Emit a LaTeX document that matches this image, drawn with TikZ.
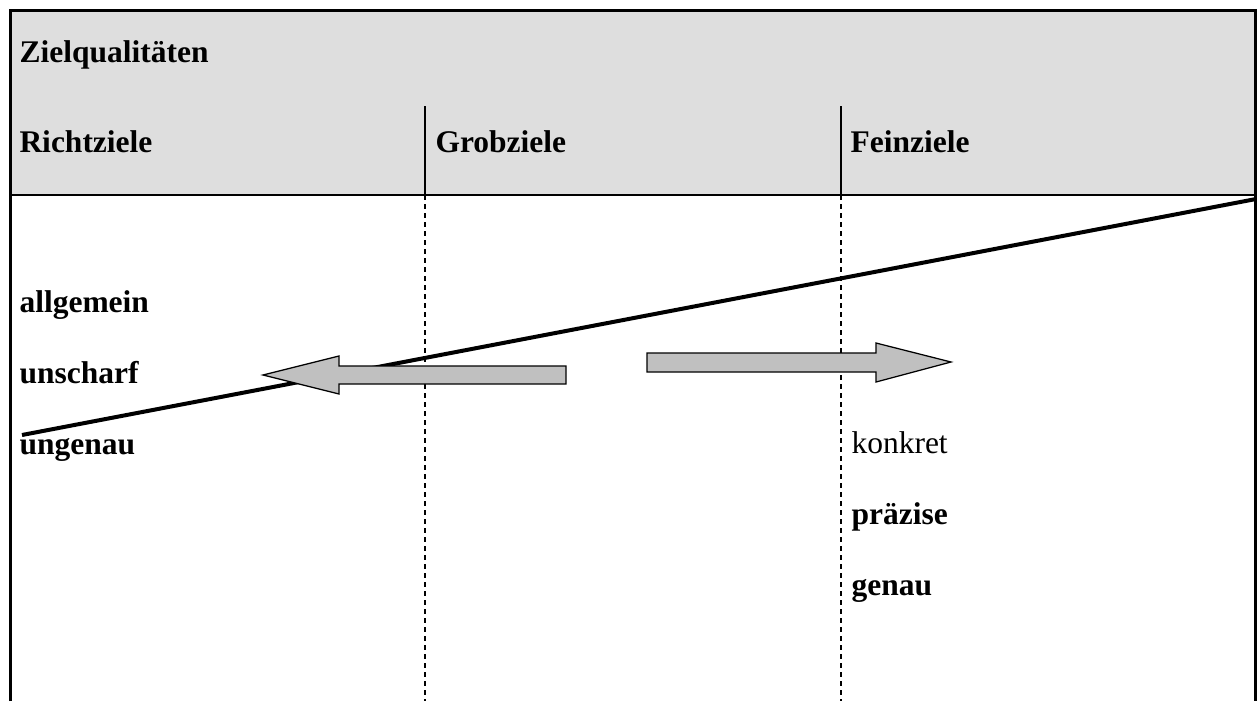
\documentclass[tikz,border=0pt]{standalone}
\usepackage{fontspec}
\setmainfont{Liberation Serif}
\definecolor{kopfgrau}{RGB}{222,222,222}
\definecolor{pfeilgrau}{RGB}{192,192,192}
\tikzset{
  ziel/.style={anchor=base west,inner sep=0pt,font=\fontsize{12.6}{15}\selectfont\bfseries},
  zielnormal/.style={anchor=base west,inner sep=0pt,font=\fontsize{12.6}{15}\selectfont},
  trenner/.style={line width=0.8pt},
  trennerdash/.style={line width=1.1pt,dash pattern=on 2pt off 1.6pt},
  blockpfeil/.style={draw,line width=0.5pt,fill=pfeilgrau,line join=miter}
}
\begin{document}
\begin{tikzpicture}[x=0.4pt,y=-0.4pt]
        \useasboundingbox (0,0) rectangle (1257,701);

        % Kopfzeile
        \fill[kopfgrau] (10,10) rectangle (1255.5,195);
        \draw[line width=1.2pt] (10,701) -- (10,10) -- (1255.5,10) -- (1255.5,701);
        \draw[line width=1pt] (10,195) -- (1255.5,195);

        \node (title) at (19,62) [ziel] {Zielqualitäten};
        \node (richt) at (19,152) [ziel] {Richtziele};
        \node (grob) at (435,152) [ziel] {Grobziele};
        \node (fein) at (850,152) [ziel] {Feinziele};

        \coordinate (t1) at (425,106);
        \coordinate (m1) at (425,195);
        \coordinate (b1) at (425,701);
        \coordinate (t2) at (841,106);
        \coordinate (m2) at (841,195);
        \coordinate (b2) at (841,701);

        \draw[trenner] (t1) -- (m1);
        \draw[trenner] (t2) -- (m2);
        \draw[trennerdash] (m1) -- (b1);
        \draw[trennerdash] (m2) -- (b2);

        \node (allg) at (19,312) [ziel] {allgemein};
        \node (unscharf) at (19,383) [ziel] {unscharf};
        \node (ungenau) at (19,454) [ziel] {ungenau};

        \node (konkret) at (851,453) [zielnormal] {konkret};
        \node (praezise) at (851,524) [ziel] {präzise};
        \node (genau) at (851,595) [ziel] {genau};

        \coordinate (diagA) at (22,435);
        \coordinate (diagB) at (1256,199);
        \draw[line width=1.6pt] (diagA) -- (diagB);

        % Blockpfeile
        \draw[blockpfeil] (263,375) -- (339,356) -- (339,366) -- (566,366) -- (566,384) -- (339,384) -- (339,394) -- cycle;
        \draw[blockpfeil] (951,362) -- (876,343) -- (876,353) -- (647,353) -- (647,372) -- (876,372) -- (876,382) -- cycle;
    \end{tikzpicture}
\end{document}
